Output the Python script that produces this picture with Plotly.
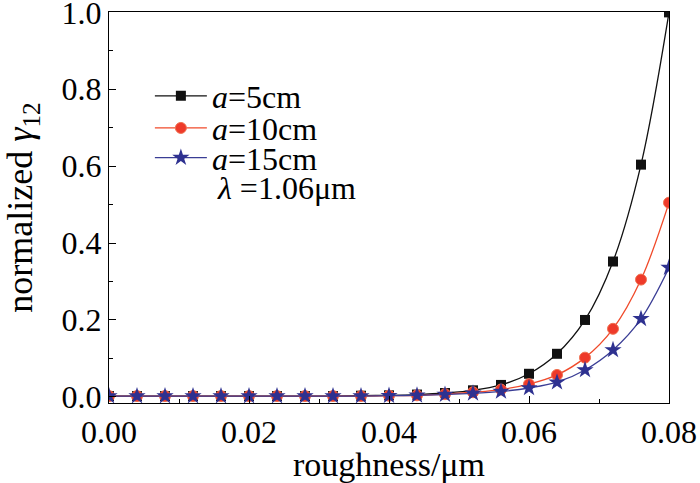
import plotly.graph_objects as go

# roughness in um, 21 sample points
roughness = [0.000, 0.004, 0.008, 0.012, 0.016, 0.020, 0.024, 0.028, 0.032, 0.036, 0.040,
             0.044, 0.048, 0.052, 0.056, 0.060, 0.064, 0.068, 0.072, 0.076, 0.080]

gamma_a5 = [0.002, 0.002, 0.002, 0.002, 0.002, 0.002, 0.002, 0.002, 0.002, 0.003, 0.004,
            0.006, 0.010, 0.017, 0.031, 0.060, 0.112, 0.200, 0.352, 0.604, 1.000]
gamma_a10 = [0.002, 0.002, 0.002, 0.002, 0.002, 0.002, 0.002, 0.002, 0.002, 0.002, 0.003,
             0.004, 0.007, 0.012, 0.019, 0.033, 0.057, 0.102, 0.177, 0.305, 0.505]
gamma_a15 = [0.002, 0.002, 0.002, 0.002, 0.002, 0.002, 0.002, 0.002, 0.002, 0.002, 0.003,
             0.004, 0.006, 0.009, 0.014, 0.023, 0.038, 0.070, 0.122, 0.203, 0.336]

series_names = ['<i>a</i>=5cm', '<i>a</i>=10cm', '<i>a</i>=15cm']

FONT = 'Liberation Serif'

fig = go.Figure()

# one legend per series so the rows can sit as close as in the original
fig.add_trace(go.Scatter(x=roughness, y=gamma_a5, mode='lines+markers', name=series_names[0],
                         legend='legend',
                         line=dict(color='#111111', width=1.3, shape='spline'),
                         marker=dict(symbol='square', size=10, color='#111111')))
fig.add_trace(go.Scatter(x=roughness, y=gamma_a10, mode='lines+markers', name=series_names[1],
                         legend='legend2',
                         line=dict(color='#f04a2a', width=1.3, shape='spline'),
                         marker=dict(symbol='circle', size=11, color='#ee3a2a',
                                     line=dict(color='#f07050', width=1))))
fig.add_trace(go.Scatter(x=roughness, y=gamma_a15, mode='lines+markers', name=series_names[2],
                         legend='legend3',
                         line=dict(color='#3a3d95', width=1.3, shape='spline'),
                         marker=dict(symbol='star', size=13, color='#2e3190')))

# wavelength note under the legend
fig.add_annotation(x=0.19, y=0.55, xref='paper', yref='paper', xanchor='left', yanchor='middle',
                   text='<i>λ</i> =1.06μm', showarrow=False,
                   font=dict(family=FONT, size=32, color='black'))

leg = dict(x=0.073, xanchor='left', yanchor='middle', bgcolor='rgba(0,0,0,0)',
           font=dict(family=FONT, size=32), itemwidth=52)

fig.update_layout(
    width=700, height=483,
    margin=dict(l=109, r=31, t=12, b=80),
    paper_bgcolor='white', plot_bgcolor='white',
    font=dict(family=FONT, size=32, color='black'),
    showlegend=True,
    legend=dict(leg, y=0.785),
    legend2=dict(leg, y=0.703),
    legend3=dict(leg, y=0.627),
    xaxis=dict(range=[0, 0.08], dtick=0.02, tickformat='.2f', automargin=False,
               ticklabeloverflow='allow',
               showline=True, linecolor='black', linewidth=1.2, mirror=True,
               ticks='inside', ticklen=7, tickcolor='black', showgrid=False, zeroline=False,
               minor=dict(dtick=0.01, ticks='inside', ticklen=4, tickcolor='black'),
               tickfont=dict(family=FONT, size=32),
               title=dict(text='roughness/μm', font=dict(family=FONT, size=34), standoff=0)),
    yaxis=dict(range=[-0.016, 1.001], dtick=0.2, tickformat='.1f', automargin=False,
               ticklabeloverflow='allow',
               showline=True, linecolor='black', linewidth=1.2, mirror=True,
               ticks='inside', ticklen=7, tickcolor='black', showgrid=False, zeroline=False,
               minor=dict(dtick=0.1, ticks='inside', ticklen=4, tickcolor='black'),
               tickfont=dict(family=FONT, size=32),
               title=dict(text='normalized <i>γ</i><sub>12</sub>', font=dict(family=FONT, size=36), standoff=17)),
)

# drop the page's default body margin so the figure sits at the window corner
fig.write_html("out.html", config={'displayModeBar': False},
               post_script="document.body.style.margin='0';")
